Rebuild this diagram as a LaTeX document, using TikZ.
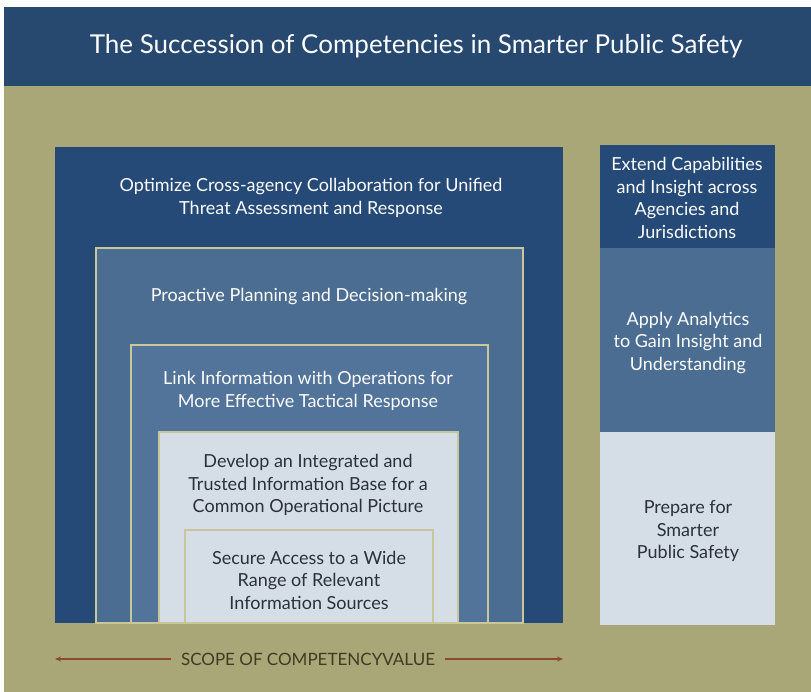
\documentclass[tikz,border=0pt]{standalone}
\usepackage{fontspec}
\setmainfont{Lato}
\usetikzlibrary{arrows.meta}
\definecolor{hdr}{HTML}{27486F}
\definecolor{field}{HTML}{A9A778}
\definecolor{deep}{HTML}{264A77}
\definecolor{mid}{HTML}{4C6D92}
\definecolor{midb}{HTML}{52739A}
\definecolor{pale}{HTML}{D5DEE7}
\definecolor{rim}{HTML}{C9C69C}
\definecolor{ink}{HTML}{2B303A}
\definecolor{rust}{HTML}{8B4A2B}
\definecolor{dun}{HTML}{3E3C22}
\tikzset{
  rimbox/.style={draw=rim, line width=1.6pt},
  lite/.style={align=center, text=white!90!pale, font=\fontsize{18}{22.5}\selectfont},
  dark/.style={align=center, text=ink, font=\fontsize{18}{22.5}\selectfont},
}
\begin{document}
\begin{tikzpicture}[x=1pt,y=-1pt]
  \fill[white] (0,0) rectangle (811,692);
  \fill[hdr] (4,7) rectangle (811,86);
  \fill[field] (4,86) rectangle (811,692);
  \node[text=white!90!pale, font=\fontsize{26}{30}\selectfont] (title) at (416,46)
    {The Succession of Competencies in Smarter Public Safety};

  % nested boxes, outermost first
  \fill[deep] (55,147) rectangle (563,623);
  \foreach \l/\t/\r/\c in {96/248/523/mid, 131/345/488/midb, 159/432/458/pale, 185/530/433/pale}
    \draw[rimbox, fill=\c] (\l,\t) rectangle (\r,623);

  % right column
  \fill[deep] (600,145) rectangle (775,248);
  \fill[mid] (600,248) rectangle (775,432);
  \fill[pale] (600,432) rectangle (775,625);

  \node[lite] (optimize) at (311,198)
    {Optimize Cross-agency Collaboration for Unified\\Threat Assessment and Response};
  \node[lite] (proactive) at (309,297) {Proactive Planning and Decision-making};
  \node[lite] (link) at (308,391)
    {Link Information with Operations for\\More Effective Tactical Response};
  \node[dark] (develop) at (308,485)
    {Develop an Integrated and\\Trusted Information Base for a\\Common Operational Picture};
  \node[dark] (secure) at (309,580)
    {Secure Access to a Wide\\Range of Relevant\\Information Sources};
  \node[lite] (extend) at (687,198)
    {Extend Capabilities\\and Insight across\\Agencies and\\Jurisdictions};
  \node[lite] (analytics) at (688,343)
    {Apply Analytics\\to Gain Insight and\\Understanding};
  \node[dark] (prepare) at (688,531) {Prepare for\\Smarter\\Public Safety};

  % scope arrow
  \node[text=dun, font=\fontsize{17}{18}\selectfont] (scope) at (308,659)
    {SCOPE OF COMPETENCYVALUE};
  \coordinate (scopeL) at (55,659);
  \coordinate (scopeR) at (563,659);
  \draw[rust, line width=1.2pt, -{Stealth[length=6pt,width=5pt]}] (scope.west) ++(-6,0) -- (scopeL);
  \draw[rust, line width=1.2pt, -{Stealth[length=6pt,width=5pt]}] (scope.east) ++(6,0) -- (scopeR);
\end{tikzpicture}
\end{document}
